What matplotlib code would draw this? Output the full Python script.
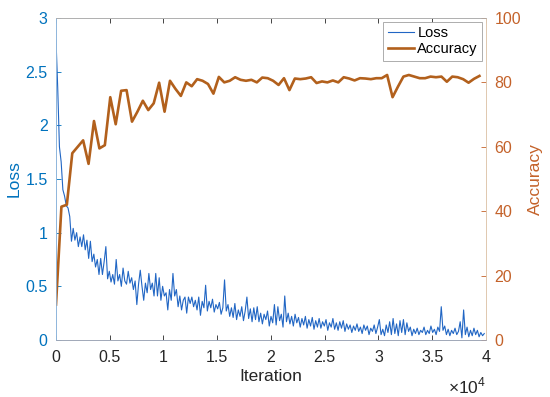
import numpy as np
import matplotlib
matplotlib.use("Agg")
import matplotlib.pyplot as plt
from matplotlib.ticker import FuncFormatter

plt.rcParams['font.family'] = ['Liberation Sans', 'DejaVu Sans']
plt.rcParams['mathtext.fontset'] = 'custom'
plt.rcParams['mathtext.rm'] = 'Liberation Sans'

# ---- data ----
loss_step = 160
loss = [
    2.8, 2.35, 1.8, 1.66, 1.4, 1.34, 1.25, 1.23, 1.15, 0.92,
    1.04, 0.93, 1.0, 0.87, 0.96, 0.87, 0.98, 0.84, 0.93, 0.76,
    0.92, 0.73, 0.80, 0.68, 0.75, 0.61, 0.76, 0.61, 0.73, 0.87,
    0.57, 0.64, 0.54, 0.61, 0.52, 0.75, 0.55, 0.61, 0.50, 0.67,
    0.55, 0.52, 0.64, 0.53, 0.58, 0.47, 0.55, 0.33, 0.52, 0.65,
    0.50, 0.37, 0.53, 0.44, 0.62, 0.47, 0.53, 0.41, 0.62, 0.41,
    0.58, 0.37, 0.50, 0.41, 0.44, 0.28, 0.47, 0.37, 0.62, 0.41,
    0.47, 0.31, 0.41, 0.28, 0.37, 0.40, 0.25, 0.40, 0.34, 0.40,
    0.31, 0.37, 0.28, 0.40, 0.23, 0.36, 0.30, 0.51, 0.27, 0.36,
    0.30, 0.38, 0.26, 0.33, 0.29, 0.35, 0.24, 0.30, 0.56, 0.27,
    0.33, 0.22, 0.30, 0.21, 0.34, 0.19, 0.28, 0.22, 0.31, 0.18,
    0.27, 0.40, 0.20, 0.29, 0.17, 0.30, 0.19, 0.31, 0.17, 0.25,
    0.15, 0.24, 0.19, 0.27, 0.13, 0.22, 0.16, 0.33, 0.14, 0.31,
    0.18, 0.24, 0.12, 0.41, 0.17, 0.25, 0.15, 0.22, 0.13, 0.24,
    0.16, 0.21, 0.12, 0.20, 0.14, 0.22, 0.11, 0.19, 0.13, 0.21,
    0.10, 0.18, 0.12, 0.20, 0.11, 0.17, 0.13, 0.19, 0.09, 0.16,
    0.12, 0.20, 0.10, 0.16, 0.09, 0.17, 0.11, 0.18, 0.08, 0.15,
    0.10, 0.14, 0.07, 0.13, 0.09, 0.15, 0.08, 0.12, 0.06, 0.14,
    0.09, 0.13, 0.05, 0.11, 0.08, 0.14, 0.06, 0.12, 0.19, 0.05,
    0.10, 0.04, 0.14, 0.07, 0.17, 0.05, 0.20, 0.06, 0.15, 0.04,
    0.18, 0.07, 0.19, 0.05, 0.16, 0.08, 0.12, 0.04, 0.10, 0.06,
    0.11, 0.05, 0.09, 0.07, 0.12, 0.05, 0.09, 0.06, 0.13, 0.07,
    0.10, 0.05, 0.12, 0.08, 0.31, 0.09, 0.13, 0.05, 0.10, 0.04,
    0.09, 0.06, 0.11, 0.05, 0.08, 0.17, 0.02, 0.28, 0.05, 0.12,
    0.03, 0.09, 0.04, 0.11, 0.05, 0.09, 0.03, 0.07, 0.04, 0.06,
]
acc_step = 505
accuracy = [
    11, 41.4, 42, 58, 60, 62, 54.7, 68, 59.5, 60.5,
    75.4, 67, 77.4, 77.6, 67.8, 70.9, 74.3, 71.4, 73.5, 79.9,
    70.9, 80.5, 78, 75.8, 80, 78.8, 81, 80.5, 79.5, 76.5,
    81.7, 80, 80.5, 81.6, 80.8, 80.5, 80.8, 80, 81.5, 81.3,
    80.5, 79.2, 81.3, 77.6, 81.2, 81, 81.2, 81.6, 79.8, 80.3,
    80, 80.6, 80, 81.6, 81.2, 80.6, 81.3, 81.2, 81, 81.3,
    81.3, 82.3, 75.4, 78.7, 81.8, 82.3, 81.8, 81.3, 81.3, 81.8,
    81.6, 81.8, 80.2, 81.8, 81.6, 81, 79.9, 81.1, 82,
]
loss_iter = np.arange(len(loss)) * loss_step
acc_iter = np.arange(len(accuracy)) * acc_step

x_ticks = [0, 5000, 10000, 15000, 20000, 25000, 30000, 35000, 40000]
loss_ticks = [0, 0.5, 1, 1.5, 2, 2.5, 3]
acc_ticks = [0, 20, 40, 60, 80, 100]

BLUE = '#0072BD'
LBLUE = '#2166C4'
ORANGE = '#C4622A'
BROWN = '#B2601C'
FS = 11.5

fig = plt.figure(figsize=(5.5, 3.97), dpi=100)
ax = fig.add_axes([0.1018, 0.1436, 0.7818, 0.8111])
ax2 = ax.twinx()

l1, = ax.plot(loss_iter, loss, color=LBLUE, lw=0.8, label='Loss')
l2, = ax2.plot(acc_iter, accuracy, color=BROWN, lw=1.9, label='Accuracy')

ax.set_xlim(0, 40000)
ax.set_ylim(0, 3)
ax2.set_ylim(0, 100)
ax.set_xticks(x_ticks)
ax.xaxis.set_major_formatter(FuncFormatter(lambda v, p: '%g' % (v / 1e4)))
ax.set_yticks(loss_ticks)
ax.yaxis.set_major_formatter(FuncFormatter(lambda v, p: '%g' % v))
ax2.set_yticks(acc_ticks)

ax.tick_params(axis='x', direction='in', top=True, length=3.5, width=0.6,
               labelsize=FS, colors='#262626', pad=7)
ax.tick_params(axis='y', direction='in', length=3.5, width=0.6,
               labelsize=FS, colors=BLUE, pad=6)
ax2.tick_params(axis='y', direction='in', length=3.5, width=0.6,
                labelsize=FS, colors=ORANGE, pad=6)

for a in (ax, ax2):
    for s in a.spines.values():
        s.set_linewidth(0.6)
    a.spines['top'].set_color('#b0b0b0')
    a.spines['bottom'].set_color('#a0a8b8')
    a.spines['left'].set_color('#8fb6dc')
    a.spines['right'].set_color('#e0c8b0')

ax.set_xlabel('Iteration', fontsize=12.5, color='#262626', labelpad=3)
ax.set_ylabel('Loss', fontsize=12.5, color=BLUE, labelpad=3)
ax2.set_ylabel('Accuracy', fontsize=12.5, color=ORANGE, labelpad=5)

ax.text(1.0, -0.165, r'$\times\mathregular{10}^{\mathregular{4}}$',
        transform=ax.transAxes, ha='right', va='baseline',
        fontsize=12.5, color='#262626')

leg = ax2.legend(handles=[l1, l2], loc='upper right', fontsize=10.5,
                 frameon=True, fancybox=False, framealpha=1,
                 edgecolor='#a0a0a0', borderpad=0.3, handlelength=1.8,
                 handletextpad=0.25, borderaxespad=0.25, labelspacing=0.15)
leg.get_frame().set_linewidth(0.6)

fig.savefig('out.png', dpi=100)
